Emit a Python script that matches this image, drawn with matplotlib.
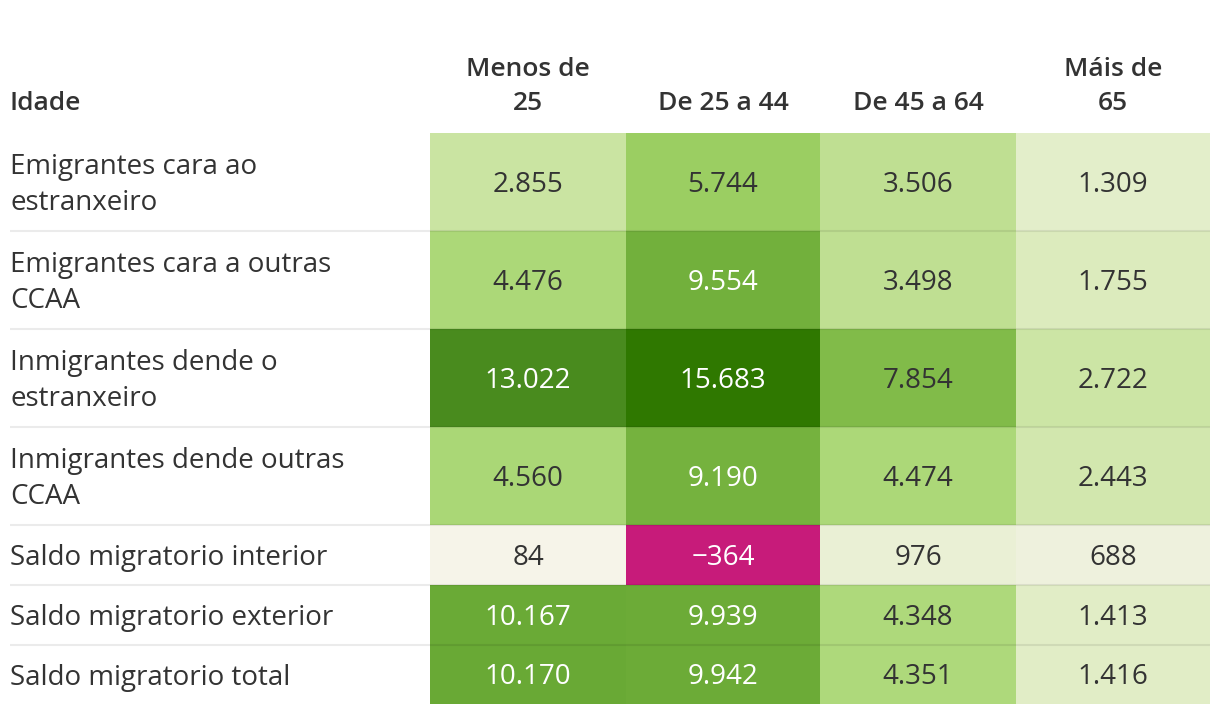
import numpy as np
import matplotlib
matplotlib.use("Agg")
import matplotlib.pyplot as plt
from matplotlib.colors import LinearSegmentedColormap, TwoSlopeNorm

plt.rcParams['font.family'] = ['Open Sans', 'DejaVu Sans']

row_labels = [
    "Emigrantes cara ao\nestranxeiro",
    "Emigrantes cara a outras\nCCAA",
    "Inmigrantes dende o\nestranxeiro",
    "Inmigrantes dende outras\nCCAA",
    "Saldo migratorio interior",
    "Saldo migratorio exterior",
    "Saldo migratorio total",
]
col_labels = ["Menos de\n25", "De 25 a 44", "De 45 a 64", "Máis de\n65"]
corner_label = "Idade"

menos_25 = [2855, 4476, 13022, 4560, 84, 10167, 10170]
de_25_44 = [5744, 9554, 15683, 9190, -364, 9939, 9942]
de_45_64 = [3506, 3498, 7854, 4474, 976, 4348, 4351]
mais_65 = [1309, 1755, 2722, 2443, 688, 1413, 1416]

values = np.array([menos_25, de_25_44, de_45_64, mais_65]).T

# colour scale (diverging: magenta for negatives, cream at zero, greens for positives)
vmin, vmax = -364, 15683
pos_stops = [
    (0.0, "#f7f4ea"), (688, "#eef1dd"), (1309, "#e3eec9"), (2855, "#cbe4a3"),
    (4476, "#acd878"), (5744, "#9bce62"), (7854, "#82bc4a"), (9554, "#72b03c"),
    (10167, "#6aaa36"), (13022, "#4a8c1f"), (15683, "#2f7800"),
]
stops = [(0.0, "#c71b7a"), (0.5, "#f7f4ea")]
for v, c in pos_stops[1:]:
    stops.append((0.5 + 0.5 * v / vmax, c))
cmap = LinearSegmentedColormap.from_list("dw", stops)
norm = TwoSlopeNorm(vmin=vmin, vcenter=0, vmax=vmax)

W, H = 1220, 714
fig = plt.figure(figsize=(W / 100, H / 100), dpi=100)
ax = fig.add_axes([0, 0, 1, 1])
ax.set_xlim(0, W)
ax.set_ylim(H, 0)
ax.axis("off")

col_edges = [430, 626, 820, 1016, 1210]
row_edges = [133, 231, 329, 427, 525, 585, 645, 704]

ax.pcolormesh(col_edges, row_edges, values, cmap=cmap, norm=norm, shading="flat")

txt = "#333333"
fs = 20
hfs = 19
# header
ax.text(10, 110, corner_label, ha="left", va="baseline", fontsize=hfs,
        fontweight="semibold", color=txt)
for j, lab in enumerate(col_labels):
    cx = (col_edges[j] + col_edges[j + 1]) / 2
    ax.text(cx, 110, lab, ha="center", va="baseline", fontsize=hfs,
            fontweight="semibold", color=txt, linespacing=1.47)

dark_thresh = 9000
dy = 3
for i, lab in enumerate(row_labels):
    cy = (row_edges[i] + row_edges[i + 1]) / 2 + dy
    ax.text(10, cy, lab, ha="left", va="center", fontsize=fs, color=txt,
            linespacing=1.42)
    for j in range(4):
        v = values[i, j]
        cx = (col_edges[j] + col_edges[j + 1]) / 2
        s = f"{abs(v):,}".replace(",", ".")
        if v < 0:
            s = "\u2212" + s
        col = "white" if (v < 0 or v > dark_thresh) else txt
        ax.text(cx, cy, s, ha="center", va="center", fontsize=fs, color=col)

# row separators
for y in row_edges[1:-1]:
    ax.plot([10, 1210], [y, y], color="black", alpha=0.08, lw=1.5,
            solid_capstyle="butt")

fig.savefig("out.png", dpi=100, facecolor="white")
